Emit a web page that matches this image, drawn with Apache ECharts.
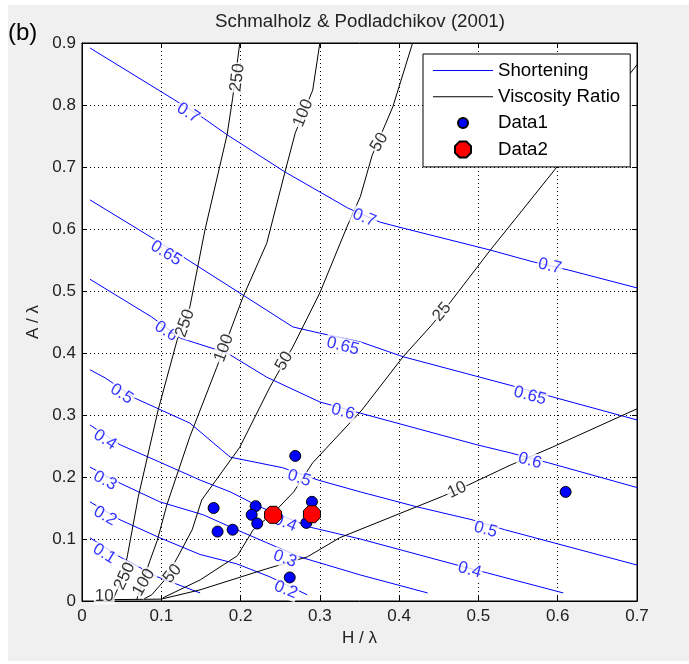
<!DOCTYPE html>
<html>
<head>
<meta charset="utf-8">
<script src="https://cdn.jsdelivr.net/npm/echarts@6/dist/echarts.min.js"></script>
<style>
  html, body { margin: 0; padding: 0; background: #fff; }
  #chart { width: 689px; height: 664px; }
</style>
</head>
<body>
<div id="chart"></div>
<script>
// shortening contours (blue)
const short070 = [[0.010,0.892],[0.117,0.808],[0.153,0.779],[0.183,0.752],[0.256,0.692],[0.335,0.634],[0.376,0.611],[0.400,0.603],[0.515,0.566],[0.569,0.547],[0.613,0.534],[0.700,0.505]];
const short065 = [[0.010,0.647],[0.083,0.590],[0.130,0.553],[0.233,0.469],[0.266,0.442],[0.300,0.432],[0.351,0.418],[0.405,0.394],[0.540,0.348],[0.594,0.329],[0.700,0.292]];
const short060 = [[0.010,0.519],[0.088,0.458],[0.124,0.424],[0.183,0.400],[0.233,0.361],[0.300,0.321],[0.351,0.303],[0.498,0.252],[0.540,0.239],[0.588,0.223],[0.700,0.183]];
const short050 = [[0.010,0.373],[0.029,0.360],[0.067,0.327],[0.136,0.287],[0.187,0.232],[0.253,0.215],[0.298,0.195],[0.351,0.176],[0.422,0.152],[0.492,0.131],[0.533,0.115],[0.700,0.058]];
const short040 = [[0.010,0.284],[0.048,0.252],[0.098,0.224],[0.149,0.195],[0.187,0.176],[0.224,0.152],[0.288,0.119],[0.351,0.100],[0.473,0.058],[0.512,0.045],[0.607,0.013]];
const short030 = [[0.010,0.216],[0.048,0.190],[0.098,0.160],[0.153,0.139],[0.195,0.115],[0.233,0.094],[0.275,0.071],[0.351,0.042],[0.436,0.013]];
const short020 = [[0.010,0.160],[0.048,0.131],[0.098,0.102],[0.149,0.075],[0.195,0.060],[0.237,0.039],[0.284,0.010]];
const short010 = [[0.010,0.102],[0.048,0.071],[0.095,0.039],[0.149,0.013]];

// viscosity ratio contours (black)
const visc250 = [[0.199,0.900],[0.190,0.811],[0.183,0.752],[0.155,0.598],[0.136,0.474],[0.120,0.421],[0.096,0.308],[0.071,0.168],[0.057,0.071],[0.050,0.034],[0.039,0.002]];
const visc100 = [[0.300,0.900],[0.291,0.824],[0.269,0.755],[0.256,0.692],[0.233,0.577],[0.203,0.490],[0.193,0.456],[0.170,0.377],[0.136,0.265],[0.107,0.155],[0.095,0.098],[0.086,0.066],[0.073,0.018],[0.069,0.002]];
const visc050 = [[0.417,0.900],[0.392,0.797],[0.366,0.719],[0.351,0.652],[0.334,0.603],[0.300,0.497],[0.284,0.456],[0.266,0.410],[0.237,0.345],[0.199,0.248],[0.151,0.163],[0.139,0.115],[0.122,0.074],[0.105,0.035],[0.088,0.010],[0.076,0.002]];
const visc025 = [[0.700,0.865],[0.599,0.700],[0.515,0.566],[0.464,0.481],[0.441,0.445],[0.405,0.394],[0.353,0.308],[0.291,0.223],[0.267,0.176],[0.243,0.144],[0.216,0.115],[0.196,0.073],[0.149,0.034],[0.102,0.005]];
const visc010 = [[0.020,0.002],[0.100,0.003],[0.149,0.018],[0.233,0.052],[0.284,0.071],[0.325,0.102],[0.422,0.152],[0.455,0.169],[0.487,0.187],[0.540,0.219],[0.593,0.248],[0.700,0.310]];

// inline contour labels: x, y, text, angle
const shortLabels = [
  [0.134,0.787,'0.7',-32],[0.356,0.618,'0.7',-22],[0.590,0.540,'0.7',-13],
  [0.106,0.561,'0.65',-32],[0.329,0.411,'0.65',-14],[0.565,0.331,'0.65',-15],
  [0.106,0.435,'0.6',-33],[0.329,0.305,'0.6',-15],[0.565,0.226,'0.6',-15],
  [0.050,0.334,'0.5',-33],[0.274,0.198,'0.5',-18],[0.509,0.115,'0.5',-16],
  [0.029,0.260,'0.4',-33],[0.256,0.126,'0.4',-22],[0.489,0.050,'0.4',-15],
  [0.029,0.194,'0.3',-28],[0.256,0.068,'0.3',-20],
  [0.029,0.137,'0.2',-30],[0.257,0.018,'0.2',-22],
  [0.028,0.076,'0.1',-32]
];
const viscLabels = [
  [0.196,0.844,'250',83],[0.279,0.787,'100',68],[0.375,0.740,'50',58],
  [0.454,0.466,'25',50],[0.473,0.179,'10',25],
  [0.130,0.448,'250',70],[0.179,0.408,'100',70],[0.255,0.387,'50',60],
  [0.054,0.040,'250',65],[0.078,0.030,'100',60],[0.114,0.044,'50',50],
  [0.028,0.008,'10',0]
];

// measured samples
const data1 = [[0.269,0.234],[0.166,0.150],[0.219,0.153],[0.214,0.139],[0.221,0.125],[0.171,0.112],[0.190,0.115],[0.290,0.160],[0.283,0.126],[0.262,0.038],[0.610,0.176]];
const data2 = [[0.241,0.139],[0.290,0.140]];

const FONT = '"Liberation Sans", Arial, sans-serif';
const BLUE = '#0000ff';
const octagon = 'path://M-3.83,-9.24L3.83,-9.24L9.24,-3.83L9.24,3.83L3.83,9.24L-3.83,9.24L-9.24,3.83L-9.24,-3.83Z';
const dotIcon = 'path://M0,0M16,16M13,8A5,5,0,1,1,3,8A5,5,0,1,1,13,8Z';
const lineIcon = 'path://M0,0M60,16M0,7.5L60,7.5L60,8.5L0,8.5Z';

const contour = (name, color, pts) => ({
  type: 'line',
  name: name,
  data: pts,
  symbol: 'none',
  showSymbol: false,
  lineStyle: { color: color, width: 1 },
  itemStyle: { color: color },
  z: 2,
  silent: true
})

const labelSeries = (name, color, list) => ({
  type: 'scatter',
  name: name,
  data: list.map(d => ({ value: [d[0], d[1]], label: { rotate: d[3], formatter: d[2] } })),
  symbolSize: 1,
  itemStyle: { color: 'rgba(0,0,0,0)' },
  label: {
    show: true,
    position: 'inside',
    color: color,
    fontSize: 17,
    fontFamily: FONT,
    backgroundColor: '#fff',
    padding: [0, 1]
  },
  z: 3,
  silent: true
})

const chart = echarts.init(document.getElementById('chart'))

const axisCommon = {
  type: 'value',
  axisLine: { show: true, onZero: false, lineStyle: { color: '#000', width: 1 } },
  axisTick: { show: true, inside: true, length: 5, lineStyle: { color: '#000' } }
}

const option = {
  animation: false,
  backgroundColor: '#fff',
  graphic: [
    { type: 'rect', shape: { x: 8, y: 5, width: 681, height: 656 }, style: { fill: '#f0f0f0' }, z: -10, silent: true },
    { type: 'text', x: 360, y: 22, style: { text: 'Schmalholz & Podladchikov (2001)', align: 'center', verticalAlign: 'middle', fontSize: 18.7, fontFamily: FONT, fill: '#222' } },
    { type: 'text', x: 8, y: 33, style: { text: '(b)', verticalAlign: 'middle', fontSize: 24, fontFamily: FONT, fill: '#000' } }
  ],
  grid: { left: 82, top: 43, right: 52, bottom: 63, show: true, backgroundColor: '#fff', borderColor: '#000', borderWidth: 1 },
  legend: {
    orient: 'vertical',
    left: 423,
    top: 54,
    padding: [7, 10, 8, 10],
    itemGap: 7.3,
    itemWidth: 60,
    itemHeight: 16,
    backgroundColor: '#fff',
    borderColor: '#000',
    borderWidth: 1,
    selectedMode: false,
    textStyle: { fontSize: 18.7, fontFamily: FONT, color: '#000' },
    data: [
      { name: 'Shortening', icon: lineIcon },
      { name: 'Viscosity Ratio', icon: lineIcon },
      { name: 'Data1', icon: dotIcon },
      { name: 'Data2', icon: octagon }
    ]
  },
  xAxis: [
    Object.assign({}, axisCommon, {
      min: 0, max: 0.7, interval: 0.1, position: 'bottom',
      axisLabel: { color: '#222', fontSize: 17, fontFamily: FONT, margin: 7 },
      splitLine: { show: true, lineStyle: { color: '#000', type: [1, 3], width: 1 } },
      name: 'H / λ', nameLocation: 'middle', nameGap: 28,
      nameTextStyle: { fontSize: 17, fontFamily: FONT, color: '#222' }
    }),
    Object.assign({}, axisCommon, {
      min: 0, max: 0.7, interval: 0.1, position: 'top',
      axisLabel: { show: false }, splitLine: { show: false }
    })
  ],
  yAxis: [
    Object.assign({}, axisCommon, {
      min: 0, max: 0.9, interval: 0.1, position: 'left',
      axisLabel: { color: '#222', fontSize: 17, fontFamily: FONT, margin: 6 },
      splitLine: { show: true, lineStyle: { color: '#000', type: [1, 3], width: 1 } },
      name: 'A / λ', nameLocation: 'middle', nameGap: 34,
      nameTextStyle: { fontSize: 17, fontFamily: FONT, color: '#222' }
    }),
    Object.assign({}, axisCommon, {
      min: 0, max: 0.9, interval: 0.1, position: 'right',
      axisLabel: { show: false }, splitLine: { show: false }
    })
  ],
  series: [
    contour('Shortening', BLUE, short070),
    contour('Shortening', BLUE, short065),
    contour('Shortening', BLUE, short060),
    contour('Shortening', BLUE, short050),
    contour('Shortening', BLUE, short040),
    contour('Shortening', BLUE, short030),
    contour('Shortening', BLUE, short020),
    contour('Shortening', BLUE, short010),
    contour('Viscosity Ratio', '#000', visc250),
    contour('Viscosity Ratio', '#000', visc100),
    contour('Viscosity Ratio', '#000', visc050),
    contour('Viscosity Ratio', '#000', visc025),
    contour('Viscosity Ratio', '#000', visc010),
    labelSeries('shortLabels', BLUE, shortLabels),
    labelSeries('viscLabels', '#000', viscLabels),
    {
      type: 'scatter', name: 'Data1', data: data1,
      symbol: 'circle', symbolSize: 11,
      itemStyle: { color: BLUE, borderColor: '#000', borderWidth: 1, opacity: 1 },
      z: 5
    },
    {
      type: 'scatter', name: 'Data2', data: data2,
      symbol: octagon, symbolSize: 17,
      itemStyle: { color: '#ff0000', borderColor: '#000', borderWidth: 1, opacity: 1 },
      z: 6
    }
  ]
}

chart.setOption(option)
</script>
</body>
</html>
